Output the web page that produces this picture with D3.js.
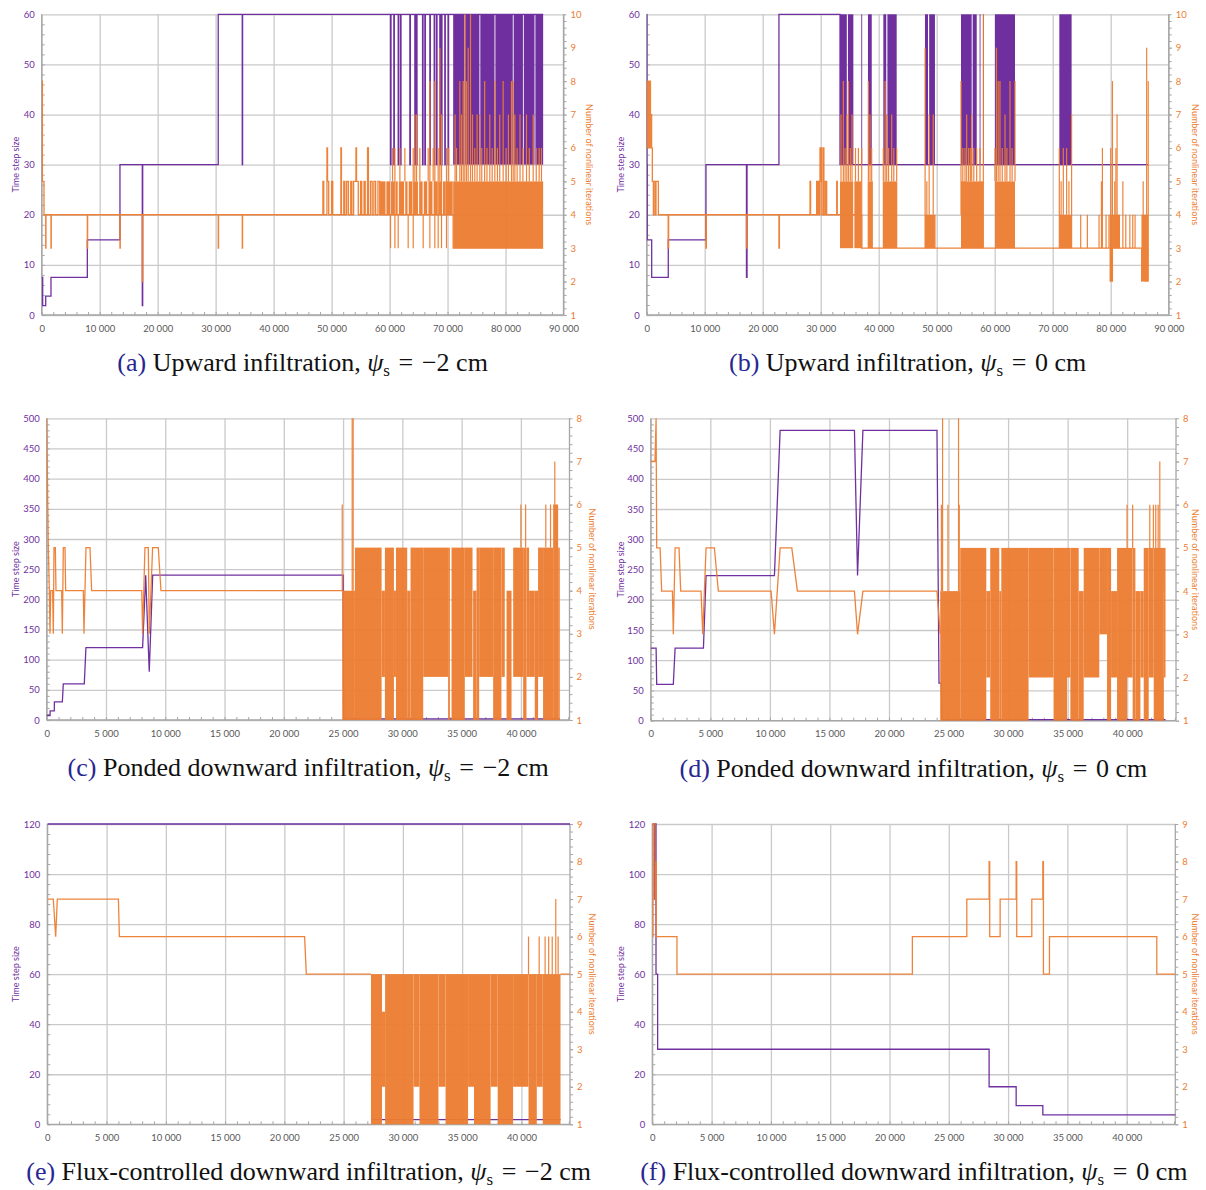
<!DOCTYPE html>
<html>
<head>
<meta charset="utf-8">
<script src="https://cdn.jsdelivr.net/npm/d3@7"></script>
<style>body{margin:0;background:#fff}</style>
</head>
<body>
<div id="canvas"></div>
<script>
"use strict"

/* colours */
let purple = "#7030a0";
let orange = "#ed7d31";
let gridColour = "#cacaca";
let axisColour = "#a6a6a6";

/* ---------- (a) upward infiltration, -2 cm ---------- */
// time step size: [time, value]
let aStep = [[0,7.5],[170,1.875],[690,3.75],[1600,7.5],[7870,15],[13500,30],[17350,1.875],[17420,30],
  [30450,60],[34590,30],[34650,60],[60170,30],[60250,60],[60740,30],[60820,60],[61490,30],[61570,60],
  [61890,30],[61970,60],[63500,30],[63580,60],[64360,30],[64440,60],[64650,30],[64730,60],[65690,30],
  [65770,60],[66090,30],[66170,60],[66950,30],[67030,60],[67700,30],[67780,60],[68100,30],[68180,60],
  [68670,30],[68750,60],[68960,30],[69040,60],[69530,30],[69610,60],[70100,30],[70180,60],[86490,60]];
let aStepBands = [[70970,72900,30,60],[73050,75500,30,60],[75650,78100,30,60],[78250,81250,30,60],
  [81400,83000,30,60],[83150,85000,30,60],[85150,86490,30,60]];
let aStepSpikes = [];
// nonlinear iterations
let aIter = [[0,8],[120,5],[400,4],[690,3],[740,4],[1600,3],[1650,4],[7870,3],[7920,4],[13500,3],[13550,4],
  [17350,2],[17420,4],[30450,3],[30500,4],[34590,3],[34640,4],[48500,5],[48650,4],[49200,6],[49300,5],
  [49500,4],[50000,5],[50200,4],[51600,6],[51700,4],[52100,5],[52300,4],[52600,5],[52900,4],[53300,5],
  [53500,4],[53800,5],[54200,6],[54300,5],[54600,4],[55000,5],[55200,4],[55600,5],[55800,4],[56200,6],
  [56350,4],[56700,5],[57000,4],[57300,5],[57600,4],[58000,5],[58300,4],[70970,3],[86490,3]];
let aIterBands = [[58300,59300,4,5],[59450,60100,4,5],[60250,60900,4,5],[61050,61400,4,5],[61600,62500,4,5],
  [62700,63100,4,5],[63300,63900,4,5],[64100,64900,4,5],[65100,65700,4,5],[65900,66500,4,5],
  [66700,67400,4,5],[67600,68300,4,5],[68450,69000,4,5],[69200,69700,4,5],[69900,70900,4,5],
  [70970,86490,3,5]];
let aIterSpikes = [[60170,3,4],[60510,5,6],[60920,3,6],[61490,3,4],[61780,5,6],[62640,5,6],[63210,3,4],
  [64080,3,6],[64360,5,7],[64650,5,7],[65220,5,6],[65800,3,4],[66660,5,6],[66950,3,8],[67520,5,6],
  [67810,3,8],[68380,3,6],[68670,5,9],[68960,3,7],[69820,3,6],[70200,5,6],[71300,5,7],[71550,5,6],
  [72120,5,8],[72400,5,7],[72700,5,8],[72980,5,10],[73270,5,8],[73560,5,9],[73960,5,10],[74300,5,7],
  [74700,5,6],[75100,5,7],[75570,5,7],[75900,5,6],[76400,5,8],[76800,5,6],[77290,5,7],[77700,5,6],
  [78160,5,8],[78600,5,6],[79000,5,7],[79590,5,8],[80100,5,6],[80500,5,7],[81030,5,8],[81320,5,8],
  [81610,5,7],[82000,5,6],[82500,5,7],[83000,5,6],[83620,5,7],[84100,5,6],[84770,5,7],[85300,5,6],
  [85800,5,6],[86200,5,6]];

/* ---------- (b) upward infiltration, 0 cm ---------- */
let bStep = [[0,60],[40,30],[90,15],[860,7.5],[3720,15],[10220,30],[17200,7.5],[17300,30],[22800,60],
  [33330,30],[86470,30]];
let bStepBands = [[33330,34500,30,60],[34700,35630,30,60],[37000,37150,30,60],[38150,38800,30,60],
  [40800,41300,30,60],[41500,43100,30,60],[47980,48500,30,60],[48700,49700,30,60],[54190,56030,30,60],
  [56200,56900,30,60],[57400,57550,30,60],[58000,58100,30,60],[60050,63500,30,60],[71140,73260,30,60]];
let bStepSpikes = [];
let bIter = [[0,7],[50,8],[150,6],[250,8],[350,7],[450,6],[550,8],[650,6],[750,7],[850,6],[970,5],[1150,4],
  [1250,5],[1500,4],[1600,5],[2010,4],[3700,3],[3780,4],[10200,3],[10280,4],[17200,3],[17300,4],[22800,3],
  [22880,4],[28160,5],[28260,4],[29300,5],[29400,4],[29600,5],[29700,4],[29880,6],[29950,5],[30100,6],
  [30200,4],[30460,6],[30550,5],[30700,4],[30800,5],[31030,4],[32760,5],[32860,4],[33330,4],[37070,3],[86470,3]];
let bIterBands = [[33330,35600,3,5],[35800,37000,3,5],[38100,39000,3,5],[40700,43200,3,5],[47980,49700,3,4],
  [54190,58040,3,5],[60050,63500,3,5],[71140,73260,3,4],[79800,80400,2,4],[80400,81500,3,4],[85300,86470,2,4]];
let bIterSpikes = [[33500,5,7],[33900,5,8],[34200,5,6],[34500,5,7],[34770,5,8],[35100,5,6],[35400,5,7],
  [36000,5,6],[36500,5,6],[37070,3,6],[38220,5,8],[38500,5,7],[38790,5,6],[40800,5,6],[41100,5,8],
  [41380,5,7],[41700,5,6],[42240,5,7],[42600,5,6],[43100,5,6],[48000,3,9],[48300,3,5],[48700,4,7],
  [49000,3,4],[49400,4,7],[49700,3,4],[54190,4,8],[54500,3,6],[54880,4,6],[55170,5,7],[55500,5,6],
  [55800,5,6],[56030,5,7],[56400,5,6],[56890,5,6],[57470,3,6],[58040,3,10],[60050,5,6],[60300,5,9],
  [60600,5,8],[60910,5,8],[61300,5,6],[61780,5,7],[62100,5,6],[62640,5,8],[63000,5,6],[63500,5,8],
  [71140,3,6],[71450,3,5],[71830,4,6],[72400,4,6],[72800,4,5],[73260,3,7],[74830,3,4],[75980,3,4],
  [77990,3,4],[78400,3,5],[78570,3,6],[79200,3,4],[79700,3,4],[80000,2,6],[80300,2,8],[80700,3,5],
  [80900,3,6],[81100,3,7],[81500,3,4],[82100,3,5],[82600,3,4],[83300,3,4],[83800,3,4],[84200,3,4],
  [85330,2,3],[85600,3,5],[86000,2,4],[86200,2,9],[86470,2,8]];

/* ---------- (c) ponded downward infiltration, -2 cm ---------- */
let cStep = [[0,7.5],[280,7.5],[290,15],[640,15],[650,30],[1320,30],[1400,60],[3170,60],[3310,120],
  [8090,120],[8350,240],[8650,80],[8940,240],[25000,240],[25050,1.875],[43280,1.875]];
let cStepBands = [];
let cStepSpikes = [];
let cIter = [[0,8],[137,5],[222,4],[278,3],[340,4],[500,4],[559,3],[615,5],[727,5],[784,4],[1260,4],
  [1318,3],[1402,5],[1543,5],[1599,4],[3090,4],[3145,3],[3314,5],[3651,5],[3792,4],[8020,4],[8091,3],
  [8288,5],[8570,5],[8654,3],[8935,5],[9413,5],[9638,4],[24930,4]];
let cIterBands = [[24930,26000,1,4],[26000,28250,1,5],[28250,28530,2,4],[28530,29290,1,5],[29290,29460,2,4],
  [29460,30410,1,5],[30410,30690,1,4],[30690,31760,1,5],[31760,33860,2,5],[33860,34010,1,5],
  [34150,35270,1,5],[35270,35920,2,5],[35970,36260,1,4],[36260,36480,1,5],[36480,37660,2,5],
  [37660,38360,1,5],[38360,38640,2,5],[38790,39210,1,4],[39350,40190,2,5],[40190,40470,1,5],
  [40470,40690,2,5],[40690,41170,2,4],[41170,41450,1,4],[41450,41870,2,5],[41870,42720,1,5],
  [42720,43140,1,6],[43140,43280,1,5]];
let cIterSpikes = [[24930,4,6],[25770,4,8],[25850,4,8],[40000,5,6],[40400,5,6],[42100,5,6],[42500,5,6],
  [42860,5,7]];

/* ---------- (d) ponded downward infiltration, 0 cm ---------- */
let dStep = [[0,120],[445,120],[496,60],[1890,60],[2040,120],[4420,120],[4640,240],[10380,240],
  [10860,480],[17100,480],[17360,240],[17810,480],[24030,480],[24200,62],[24400,62],[24450,1.875],
  [43220,1.875]];
let dStepBands = [];
let dStepSpikes = [];
let dIter = [[0,7],[350,7],[445,8],[496,5],[782,5],[913,4],[1815,4],[1890,3],[2040,5],[2370,5],[2510,4],
  [4220,4],[4360,3],[4640,5],[5340,5],[5670,4],[10100,4],[10380,3],[10860,5],[11840,5],[12310,4],
  [17100,4],[17360,3],[17810,4],[24030,4],[24300,3]];
let dIterBands = [[24300,25980,1,4],[25980,28170,1,5],[28170,28500,2,4],[28500,29260,1,5],[29260,29430,1,4],
  [29430,31720,1,5],[31720,33820,2,5],[33820,34950,1,5],[34950,35230,2,5],[35230,35930,1,5],
  [35930,36350,1,4],[36350,37660,2,5],[37660,38310,3,5],[38310,38650,1,5],[38650,39150,2,4],
  [39150,39990,1,5],[39990,40460,2,5],[40460,40690,1,5],[40690,41110,1,4],[41110,41390,2,4],
  [41390,41810,1,5],[41810,42230,2,5],[42230,43080,1,5],[43080,43220,2,5]];
let dIterSpikes = [[24400,4,6],[24500,4,8],[24950,4,6],[25840,4,8],[25900,4,6],[39990,5,6],[40460,5,6],
  [41900,5,6],[42200,5,6],[42400,5,6],[42600,5,6],[42740,5,7],[43080,4,5]];

/* ---------- (e) flux-controlled downward infiltration, -2 cm ---------- */
let eStep = [[0,120],[44100,120],[44100,null],[27310,1.875],[43300,1.875]];
let eStepBands = [];
let eStepSpikes = [];
let eIter = [[0,7],[507,7],[707,6],[845,7],[6000,7],[6080,6],[21710,6],[21850,5],[27310,5],[27310,null],
  [43300,5],[44100,5]];
let eIterBands = [[27310,28240,1,5],[28240,28500,2,4],[28500,30900,1,5],[30900,31400,2,5],[31400,33000,1,5],
  [33000,33600,2,5],[33600,35500,1,5],[35500,36000,2,5],[36000,37400,1,5],[37400,38000,2,5],
  [38000,39300,1,5],[39300,40600,2,5],[40600,41300,1,5],[41300,41800,2,5],[41800,43300,1,5]];
let eIterSpikes = [[40600,5,6],[41500,5,6],[42000,5,6],[42300,5,6],[42600,5,6],[42900,5,7],[43100,5,6]];

/* ---------- (f) flux-controlled downward infiltration, 0 cm ---------- */
let fStep = [[0,120],[170,90],[250,120],[312,60],[450,30],[28400,15],[30680,7.5],[32930,3.75],[44100,3.75]];
let fStepBands = [];
let fStepSpikes = [];
let fIter = [[0,6],[60,9],[230,7],[270,8],[330,6],[450,6],[2080,5],[21930,6],[26520,7],[28400,8],[28450,6],
  [29330,7],[30680,8],[30730,6],[32000,7],[32930,8],[32980,5],[33490,6],[42540,5],[44100,5]];
let fIterBands = [];
let fIterSpikes = [];

/* captions */
let captionLetters = ["a", "b", "c", "d", "e", "f"];
let captionTexts = ["Upward infiltration", "Upward infiltration", "Ponded downward infiltration",
  "Ponded downward infiltration", "Flux-controlled downward infiltration", "Flux-controlled downward infiltration"];
let captionValues = ["−2", "0", "−2", "0", "−2", "0"];

let drawing = d3.select("#canvas")
    .append("svg")
    .attr("width", 1206)
    .attr("height", 1190);

function spaced(n) {
  return d3.format(",")(n).replace(/,/g, " ");
}

let tickFont = "'Lato', 'Open Sans', sans-serif";

function drawPanel(p, idx) {
  let x = d3.scaleLinear().domain([0, p.xMax]).range([p.left, p.right]);
  let yL = d3.scaleLinear().domain([0, p.yMax]).range([p.bottom, p.top]);
  let yR = d3.scaleLinear().domain([1, p.rMax]).range([p.bottom, p.top]);
  let w = p.right - p.left;
  let h = p.bottom - p.top;
  let g = drawing.append("g");

  // vertical grid lines and x labels
  let xAxis = g.append("g")
      .attr("transform", `translate(0,${p.bottom})`)
      .call(d3.axisBottom(x).tickValues(d3.range(0, p.xMax + 1, p.xStep)).tickSize(-h).tickPadding(10).tickFormat(spaced));
  xAxis.select(".domain").remove();
  xAxis.selectAll("line").attr("stroke", gridColour).attr("stroke-width", 1.3);
  xAxis.selectAll("text").attr("fill", "#595959").style("font-family", tickFont).style("font-size", "9.5px");

  // horizontal grid lines and left labels
  let yAxis = g.append("g")
      .attr("transform", `translate(${p.left},0)`)
      .call(d3.axisLeft(yL).tickValues(d3.range(0, p.yMax + 1, p.yStep)).tickSize(-w).tickPadding(7).tickFormat(d3.format("d")));
  yAxis.select(".domain").remove();
  yAxis.selectAll("line").attr("stroke", gridColour).attr("stroke-width", 1.3);
  yAxis.selectAll("text").attr("fill", purple).style("font-family", tickFont).style("font-size", "9.5px");

  // right labels
  let rAxis = g.append("g")
      .attr("transform", `translate(${p.right},0)`)
      .call(d3.axisRight(yR).tickValues(d3.range(1, p.rMax + 1, 1)).tickSize(3).tickPadding(4).tickFormat(d3.format("d")));
  rAxis.select(".domain").remove();
  rAxis.selectAll("line").attr("stroke", axisColour);
  rAxis.selectAll("text").attr("fill", orange).style("font-family", tickFont).style("font-size", "9.5px");

  // minor ticks
  let mx = g.append("g").attr("transform", `translate(0,${p.bottom})`)
      .call(d3.axisBottom(x).tickValues(d3.range(0, p.xMax, p.xMinor)).tickSize(-3).tickFormat(""));
  let my = g.append("g").attr("transform", `translate(${p.left},0)`)
      .call(d3.axisLeft(yL).tickValues(d3.range(0, p.yMax, p.yMinor)).tickSize(-3).tickFormat(""));
  let mr = g.append("g").attr("transform", `translate(${p.right},0)`)
      .call(d3.axisRight(yR).tickValues(d3.range(1, p.rMax, 0.2)).tickSize(3).tickFormat(""));
  [mx, my, mr].forEach(a => {
    a.select(".domain").remove();
    a.selectAll("line").attr("stroke", axisColour);
  });

  // axis lines
  g.append("line").attr("x1", p.left).attr("x2", p.left).attr("y1", p.top).attr("y2", p.bottom)
      .attr("stroke", axisColour).attr("stroke-width", 1.3);
  g.append("line").attr("x1", p.right).attr("x2", p.right).attr("y1", p.top).attr("y2", p.bottom)
      .attr("stroke", axisColour).attr("stroke-width", 1.3);
  g.append("line").attr("x1", p.left).attr("x2", p.right).attr("y1", p.bottom).attr("y2", p.bottom)
      .attr("stroke", axisColour).attr("stroke-width", 1.3);

  // clip
  let clipId = "clip" + idx;
  g.append("clipPath").attr("id", clipId).append("rect")
      .attr("x", p.left).attr("y", p.top - 1.5).attr("width", w + 1).attr("height", h + 3);
  let plot = g.append("g").attr("clip-path", `url(#${clipId})`);

  function series(path, bands, spikes, ys, colour, curve, alpha) {
    let s = plot.append("g").attr("opacity", alpha);
    s.selectAll("rect").data(bands).join("rect")
        .attr("x", d => x(d[0]))
        .attr("width", d => Math.max(0.8, x(d[1]) - x(d[0])))
        .attr("y", d => ys(d[3]))
        .attr("height", d => ys(d[2]) - ys(d[3]))
        .attr("fill", colour);
    s.selectAll("line").data(spikes).join("line")
        .attr("x1", d => x(d[0])).attr("x2", d => x(d[0]))
        .attr("y1", d => ys(d[1])).attr("y2", d => ys(d[2]))
        .attr("stroke", colour).attr("stroke-width", 1.2);
    let line = d3.line()
        .defined(d => d[1] !== null)
        .x(d => x(d[0]))
        .y(d => ys(d[1]))
        .curve(curve);
    s.append("path").datum(path)
        .attr("d", line)
        .attr("fill", "none")
        .attr("stroke", colour)
        .attr("stroke-width", 1.3);
  }

  series(p.step, p.stepBands, p.stepSpikes, yL, purple, p.curve, 1);
  series(p.iter, p.iterBands, p.iterSpikes, yR, orange, p.curve, 0.95);

  // axis titles
  let cy = (p.top + p.bottom) / 2;
  g.append("text")
      .attr("transform", `translate(${p.lTitleX},${cy}) rotate(-90)`)
      .attr("text-anchor", "middle")
      .attr("fill", purple)
      .style("font-family", tickFont).style("font-size", "9px")
      .text("Time step size");
  g.append("text")
      .attr("transform", `translate(${p.rTitleX},${cy}) rotate(90)`)
      .attr("text-anchor", "middle")
      .attr("fill", orange)
      .style("font-family", tickFont).style("font-size", "9px")
      .text("Number of nonlinear iterations");

  // caption
  let cap = drawing.append("text")
      .attr("x", (p.left + p.right) / 2)
      .attr("y", p.bottom + 56)
      .attr("text-anchor", "middle")
      .attr("fill", "#111")
      .style("font-family", "'Liberation Serif', serif")
      .style("font-size", "26px");
  cap.append("tspan").attr("fill", "#272791").text(`(${captionLetters[idx]})`);
  cap.append("tspan").text(` ${captionTexts[idx]}, `);
  cap.append("tspan").style("font-style", "italic").text("ψ");
  cap.append("tspan").attr("dy", 5).style("font-size", "17px").text("s");
  cap.append("tspan").attr("dy", -5).text(`\u2004=\u2004${captionValues[idx]} cm`);
}

let panels = [
  {left: 41.7, right: 563.5, top: 14.3, bottom: 315, xMax: 90000, xStep: 10000, xMinor: 2000,
   yMax: 60, yStep: 10, yMinor: 2, rMax: 10, curve: d3.curveStepAfter, lTitleX: 18.5, rTitleX: 586,
   step: aStep, stepBands: aStepBands, stepSpikes: aStepSpikes, iter: aIter, iterBands: aIterBands, iterSpikes: aIterSpikes},
  {left: 646.7, right: 1168.7, top: 14.3, bottom: 315, xMax: 90000, xStep: 10000, xMinor: 2000,
   yMax: 60, yStep: 10, yMinor: 2, rMax: 10, curve: d3.curveStepAfter, lTitleX: 623.5, rTitleX: 1192,
   step: bStep, stepBands: bStepBands, stepSpikes: bStepSpikes, iter: bIter, iterBands: bIterBands, iterSpikes: bIterSpikes},
  {left: 46.7, right: 569.5, top: 418.3, bottom: 720, xMax: 44100, xStep: 5000, xMinor: 1000,
   yMax: 500, yStep: 50, yMinor: 10, rMax: 8, curve: d3.curveLinear, lTitleX: 18.5, rTitleX: 588.5,
   step: cStep, stepBands: cStepBands, stepSpikes: cStepSpikes, iter: cIter, iterBands: cIterBands, iterSpikes: cIterSpikes},
  {left: 650.8, right: 1176, top: 418.3, bottom: 720.7, xMax: 44100, xStep: 5000, xMinor: 1000,
   yMax: 500, yStep: 50, yMinor: 10, rMax: 8, curve: d3.curveLinear, lTitleX: 623.5, rTitleX: 1192,
   step: dStep, stepBands: dStepBands, stepSpikes: dStepSpikes, iter: dIter, iterBands: dIterBands, iterSpikes: dIterSpikes},
  {left: 47.3, right: 570, top: 824, bottom: 1124.3, xMax: 44100, xStep: 5000, xMinor: 1000,
   yMax: 120, yStep: 20, yMinor: 4, rMax: 9, curve: d3.curveLinear, lTitleX: 18.5, rTitleX: 588.5,
   step: eStep, stepBands: eStepBands, stepSpikes: eStepSpikes, iter: eIter, iterBands: eIterBands, iterSpikes: eIterSpikes},
  {left: 652.3, right: 1175.3, top: 824, bottom: 1124.3, xMax: 44100, xStep: 5000, xMinor: 1000,
   yMax: 120, yStep: 20, yMinor: 4, rMax: 9, curve: d3.curveStepAfter, lTitleX: 623.5, rTitleX: 1192,
   step: fStep, stepBands: fStepBands, stepSpikes: fStepSpikes, iter: fIter, iterBands: fIterBands, iterSpikes: fIterSpikes}
];

panels.forEach((p, i) => drawPanel(p, i));
</script>
</body>
</html>
